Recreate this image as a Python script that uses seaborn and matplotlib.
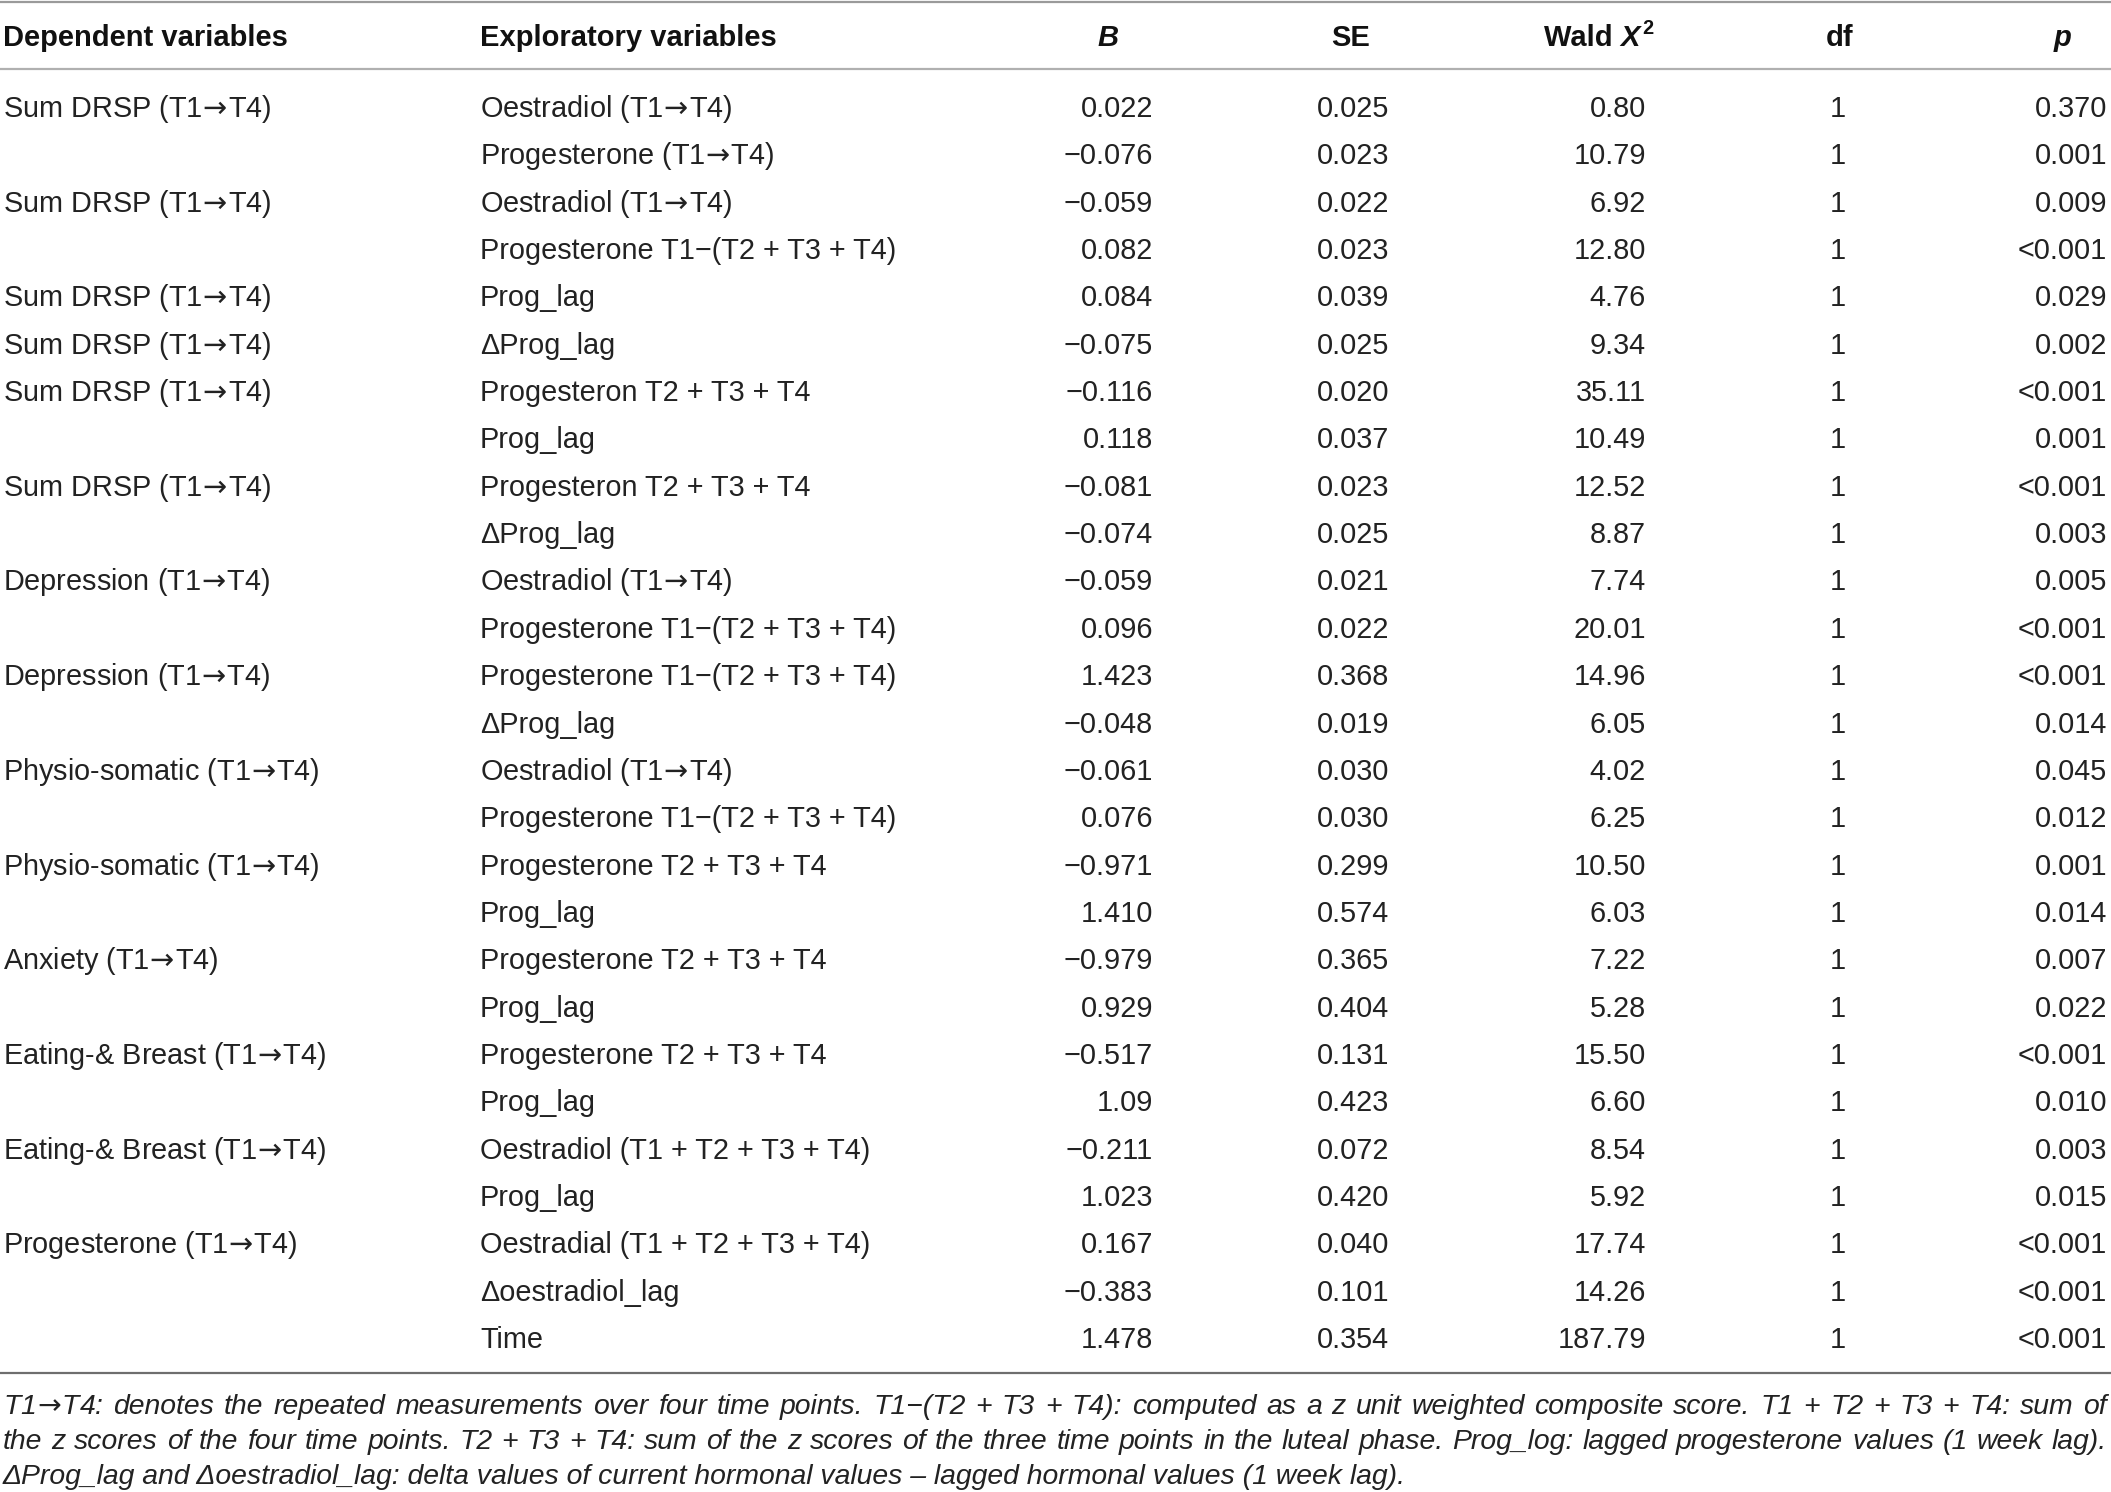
import matplotlib
matplotlib.use('Agg')
import matplotlib.pyplot as plt
import seaborn as sns

sns.set_theme(style='white')
plt.rcParams['font.family'] = ['Liberation Sans', 'DejaVu Sans']
plt.rcParams['mathtext.fontset'] = 'dejavusans'

# table content
headers = ['Dependent variables', 'Exploratory variables', 'B', 'SE', 'Wald X2', 'df', 'p']

dependent = ['Sum DRSP (T1→T4)', '', 'Sum DRSP (T1→T4)', '', 'Sum DRSP (T1→T4)',
             'Sum DRSP (T1→T4)', 'Sum DRSP (T1→T4)', '', 'Sum DRSP (T1→T4)', '',
             'Depression (T1→T4)', '', 'Depression (T1→T4)', '',
             'Physio-somatic (T1→T4)', '', 'Physio-somatic (T1→T4)', '',
             'Anxiety (T1→T4)', '', 'Eating-& Breast (T1→T4)', '',
             'Eating-& Breast (T1→T4)', '', 'Progesterone (T1→T4)', '', '']

exploratory = ['Oestradiol (T1→T4)', 'Progesterone (T1→T4)', 'Oestradiol (T1→T4)',
               'Progesterone T1−(T2 + T3 + T4)', 'Prog_lag', 'ΔProg_lag',
               'Progesteron T2 + T3 + T4', 'Prog_lag', 'Progesteron T2 + T3 + T4',
               'ΔProg_lag', 'Oestradiol (T1→T4)', 'Progesterone T1−(T2 + T3 + T4)',
               'Progesterone T1−(T2 + T3 + T4)', 'ΔProg_lag', 'Oestradiol (T1→T4)',
               'Progesterone T1−(T2 + T3 + T4)', 'Progesterone T2 + T3 + T4', 'Prog_lag',
               'Progesterone T2 + T3 + T4', 'Prog_lag', 'Progesterone T2 + T3 + T4',
               'Prog_lag', 'Oestradiol (T1 + T2 + T3 + T4)', 'Prog_lag',
               'Oestradial (T1 + T2 + T3 + T4)', 'Δoestradiol_lag', 'Time']

b_vals = ['0.022', '−0.076', '−0.059', '0.082', '0.084', '−0.075', '−0.116', '0.118',
          '−0.081', '−0.074', '−0.059', '0.096', '1.423', '−0.048', '−0.061', '0.076',
          '−0.971', '1.410', '−0.979', '0.929', '−0.517', '1.09', '−0.211', '1.023',
          '0.167', '−0.383', '1.478']

se_vals = ['0.025', '0.023', '0.022', '0.023', '0.039', '0.025', '0.020', '0.037',
           '0.023', '0.025', '0.021', '0.022', '0.368', '0.019', '0.030', '0.030',
           '0.299', '0.574', '0.365', '0.404', '0.131', '0.423', '0.072', '0.420',
           '0.040', '0.101', '0.354']

wald_vals = ['0.80', '10.79', '6.92', '12.80', '4.76', '9.34', '35.11', '10.49', '12.52',
             '8.87', '7.74', '20.01', '14.96', '6.05', '4.02', '6.25', '10.50', '6.03',
             '7.22', '5.28', '15.50', '6.60', '8.54', '5.92', '17.74', '14.26', '187.79']

df_vals = ['1'] * 27

p_vals = ['0.370', '0.001', '0.009', '<0.001', '0.029', '0.002', '<0.001', '0.001',
          '<0.001', '0.003', '0.005', '<0.001', '<0.001', '0.014', '0.045', '0.012',
          '0.001', '0.014', '0.007', '0.022', '<0.001', '0.010', '0.003', '0.015',
          '<0.001', '<0.001', '<0.001']

footnote = ['T1→T4: denotes the repeated measurements over four time points. T1−(T2 + T3 + T4): '
            'computed as a z unit weighted composite score. T1 + T2 + T3 + T4: sum of',
            'the z scores of the four time points. T2 + T3 + T4: sum of the z scores of the three '
            'time points in the luteal phase. Prog_log: lagged progesterone values (1 week lag).',
            'ΔProg_lag and Δoestradiol_lag: delta values of current hormonal values – lagged '
            'hormonal values (1 week lag).']


def arrow(s):
    # mathtext arrow (wider than Liberation's), pulled in tight to the T's
    return s.replace('→', r'$\!{\rightarrow}\!$')


W, H = 2111, 1492
fig = plt.figure(figsize=(W / 100, H / 100), dpi=100)
ax = fig.add_axes([0, 0, 1, 1])
ax.set_xlim(0, W)
ax.set_ylim(H, 0)
ax.axis('off')
renderer = fig.canvas.get_renderer()

txt_col = '#222222'
fs = 20.8
fs_head = 21
fs_note = 20.4

# horizontal rules
ax.axhline(2, color='#9a9a9a', lw=1.6)
ax.axhline(69, color='#b0b0b0', lw=1.6)
ax.axhline(1373, color='#6e6e6e', lw=1.6)

# header row
hy = 38
hkw = dict(fontsize=fs_head, fontweight='bold', color='#111111', va='center')
ax.text(3, hy, headers[0], ha='left', **hkw)
ax.text(480, hy, headers[1], ha='left', **hkw)
ax.text(1108, hy, headers[2], ha='center', fontstyle='italic', **hkw)
ax.text(1351, hy, headers[3], ha='center', **hkw)
ax.text(1840, hy, headers[5], ha='center', **hkw)
ax.text(2063, hy, headers[6], ha='center', fontstyle='italic', **hkw)

# Wald X^2 header built from pieces
t1 = ax.text(0, hy, 'Wald ', ha='left', **hkw)
t2 = ax.text(0, hy, 'X', ha='left', fontstyle='italic', **hkw)
t3 = ax.text(0, hy - 10, '2', ha='left', fontsize=fs_head * 0.68, fontweight='bold',
             color='#111111', va='center')
w1 = t1.get_window_extent(renderer).width
w2 = t2.get_window_extent(renderer).width
w3 = t3.get_window_extent(renderer).width
x = 1653 - (w1 + w2 + w3 + 2)
t1.set_x(x)
t2.set_x(x + w1)
t3.set_x(x + w1 + w2 + 2)

# body rows
y0, dy = 109, 47.35
bkw = dict(fontsize=fs, color=txt_col, va='center')
for i in range(len(exploratory)):
    y = y0 + i * dy
    ax.text(3, y, arrow(dependent[i]), ha='left', **bkw)
    ax.text(480, y, arrow(exploratory[i]), ha='left', **bkw)
    ax.text(1153, y, b_vals[i], ha='right', **bkw)
    ax.text(1389, y, se_vals[i], ha='right', **bkw)
    ax.text(1646, y, wald_vals[i], ha='right', **bkw)
    ax.text(1838, y, df_vals[i], ha='center', **bkw)
    ax.text(2107, y, p_vals[i], ha='right', **bkw)


# footnote, first two lines justified
def justify(line, y, x0, x1):
    words = line.split(' ')
    texts = [ax.text(0, y, arrow(w), ha='left', va='center', fontsize=fs_note,
                     fontstyle='italic', color=txt_col) for w in words]
    widths = [t.get_window_extent(renderer).width for t in texts]
    gap = (x1 - x0 - sum(widths)) / (len(words) - 1)
    x = x0
    for t, w in zip(texts, widths):
        t.set_x(x)
        x += w + gap


foot_y = [1407, 1442, 1477]
justify(footnote[0], foot_y[0], 3, 2107)
justify(footnote[1], foot_y[1], 3, 2107)
ax.text(3, foot_y[2], arrow(footnote[2]), ha='left', va='center', fontsize=fs_note,
        fontstyle='italic', color=txt_col)

fig.savefig('out.png', dpi=100, facecolor='white')
